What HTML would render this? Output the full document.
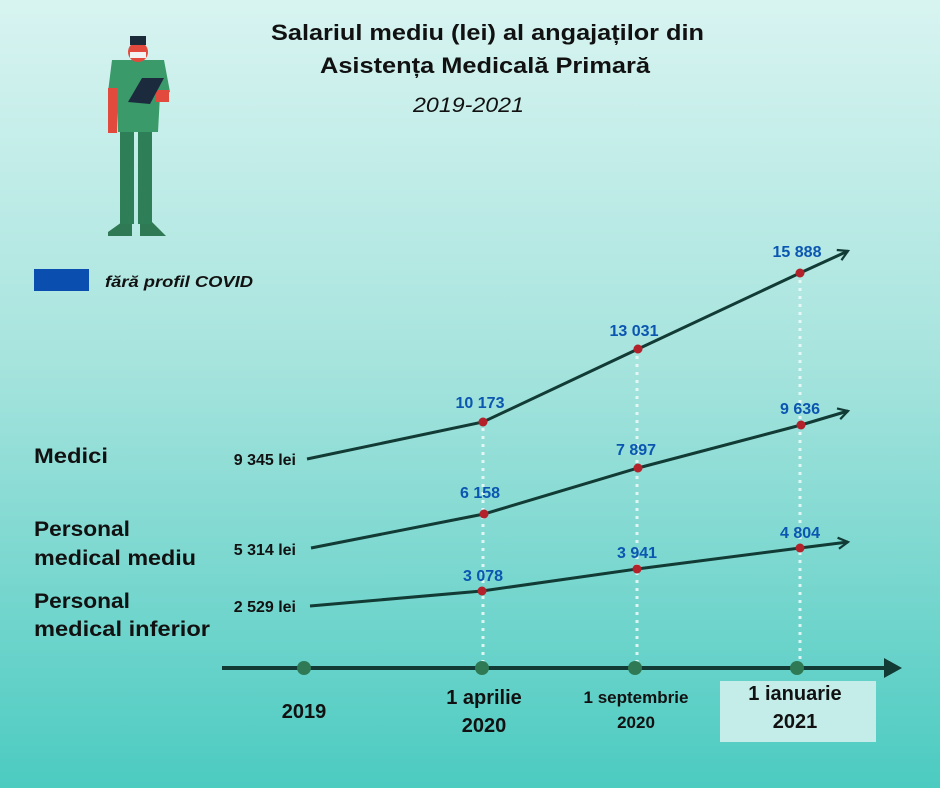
<!DOCTYPE html>
<html><head><meta charset="utf-8"><style>
html,body{margin:0;padding:0}
body{width:940px;height:788px;overflow:hidden;background:linear-gradient(180deg,#d8f4f1 0%,#a8e4de 45%,#4ccbc1 100%);font-family:"Liberation Sans",sans-serif}
</style></head><body>
<svg width="940" height="788" viewBox="0 0 940 788" xmlns="http://www.w3.org/2000/svg" style="position:absolute;left:0;top:0">
<defs><marker id="ar" viewBox="0 0 10 10" refX="8" refY="5" markerWidth="14" markerHeight="14" markerUnits="userSpaceOnUse" orient="auto"><path d="M1,1 L8,5 L1,9" fill="none" stroke="#123b35" stroke-width="1.6"/></marker></defs>
<g font-family="Liberation Sans, sans-serif" font-weight="bold" fill="#111">
<text x="271" y="40" font-size="22" textLength="433" lengthAdjust="spacingAndGlyphs">Salariul mediu (lei) al angajaților din</text>
<text x="320" y="73" font-size="22" textLength="330" lengthAdjust="spacingAndGlyphs">Asistența Medicală Primară</text>
</g>
<text x="413" y="112" font-size="21" font-style="italic" fill="#111" textLength="111" lengthAdjust="spacingAndGlyphs">2019-2021</text>
<!-- figure -->
<g>
<path d="M108,232 L122,222 L132,222 L132,236 L108,236Z M166,236 L152,222 L140,222 L140,236Z" fill="#2f7a55"/>
<rect x="120" y="128" width="14" height="96" fill="#2e7f58"/><rect x="138" y="128" width="14" height="96" fill="#2e7f58"/>
<path d="M112,60 L164,60 L170,92 L160,95 L158,132 L118,132 L116,92 L108,92Z" fill="#3a9a6a"/>
<rect x="108" y="88" width="9" height="45" fill="#e34a3e"/>
<rect x="155" y="90" width="14" height="12" fill="#e34a3e"/>
<circle cx="138" cy="52" r="10" fill="#e34a3e"/>
<rect x="130" y="36" width="16" height="9" fill="#1b2b3a"/>
<rect x="130" y="52" width="16" height="6" fill="#f2f2f2"/>
<path d="M128,102 L142,78 L164,78 L150,104Z" fill="#1c2a3e"/>
</g>
<rect x="34" y="269" width="55" height="22" fill="#0a4fb0"/>
<text x="105" y="287" font-size="16" font-weight="bold" font-style="italic" fill="#111" textLength="148" lengthAdjust="spacingAndGlyphs">fără profil COVID</text>
<g font-weight="bold" fill="#111" font-size="21">
<text x="34" y="463" textLength="74" lengthAdjust="spacingAndGlyphs">Medici</text>
<text x="34" y="536" textLength="96" lengthAdjust="spacingAndGlyphs">Personal</text><text x="34" y="565" textLength="162" lengthAdjust="spacingAndGlyphs">medical mediu</text>
<text x="34" y="608" textLength="96" lengthAdjust="spacingAndGlyphs">Personal</text><text x="34" y="636" textLength="176" lengthAdjust="spacingAndGlyphs">medical inferior</text>
</g>
<g font-weight="bold" fill="#111" font-size="16" text-anchor="end">
<text x="296" y="465">9 345 lei</text><text x="296" y="555">5 314 lei</text><text x="296" y="612">2 529 lei</text>
</g>
<g stroke="#f0fbfa" stroke-width="3" stroke-dasharray="3,5" opacity="0.85">
<line x1="483" y1="428" x2="483" y2="662"/><line x1="637" y1="356" x2="637" y2="662"/><line x1="800" y1="280" x2="800" y2="662"/>
</g>
<rect x="720" y="681" width="156" height="61" fill="#c4ede9"/>
<line x1="222" y1="668" x2="898" y2="668" stroke="#123b35" stroke-width="4"/>
<path d="M884,658 L902,668 L884,678Z" fill="#123b35"/>
<g fill="#2f7a55"><circle cx="304" cy="668" r="7"/><circle cx="482" cy="668" r="7"/><circle cx="635" cy="668" r="7"/><circle cx="797" cy="668" r="7"/></g>
<g fill="none" stroke="#123b35" stroke-width="3" marker-end="url(#ar)">
<polyline points="307,459 483,422 638,349 800,273 848,251"/>
<polyline points="311,548 484,514 638,468 801,425 848,411"/>
<polyline points="310,606 482,591 637,569 800,548 848,542"/>
</g>
<g fill="#b3212a">
<circle cx="483" cy="422" r="4.5"/><circle cx="638" cy="349" r="4.5"/><circle cx="800" cy="273" r="4.5"/>
<circle cx="484" cy="514" r="4.5"/><circle cx="638" cy="468" r="4.5"/><circle cx="801" cy="425" r="4.5"/>
<circle cx="482" cy="591" r="4.5"/><circle cx="637" cy="569" r="4.5"/><circle cx="800" cy="548" r="4.5"/>
</g>
<g fill="#0a56b0" font-weight="bold" font-size="16" text-anchor="middle">
<text x="480" y="408">10 173</text><text x="634" y="336">13 031</text><text x="797" y="257">15 888</text>
<text x="480" y="498">6 158</text><text x="636" y="455">7 897</text><text x="800" y="414">9 636</text>
<text x="483" y="581">3 078</text><text x="637" y="558">3 941</text><text x="800" y="538">4 804</text>
</g>
<g font-weight="bold" fill="#111" text-anchor="middle">
<text x="304" y="718" font-size="20">2019</text>
<text x="484" y="704" font-size="20">1 aprilie</text><text x="484" y="732" font-size="20">2020</text>
<text x="636" y="703" font-size="17">1 septembrie</text><text x="636" y="728" font-size="17">2020</text>
<text x="795" y="700" font-size="20">1 ianuarie</text><text x="795" y="728" font-size="20">2021</text>
</g>
</svg>
</body></html>
